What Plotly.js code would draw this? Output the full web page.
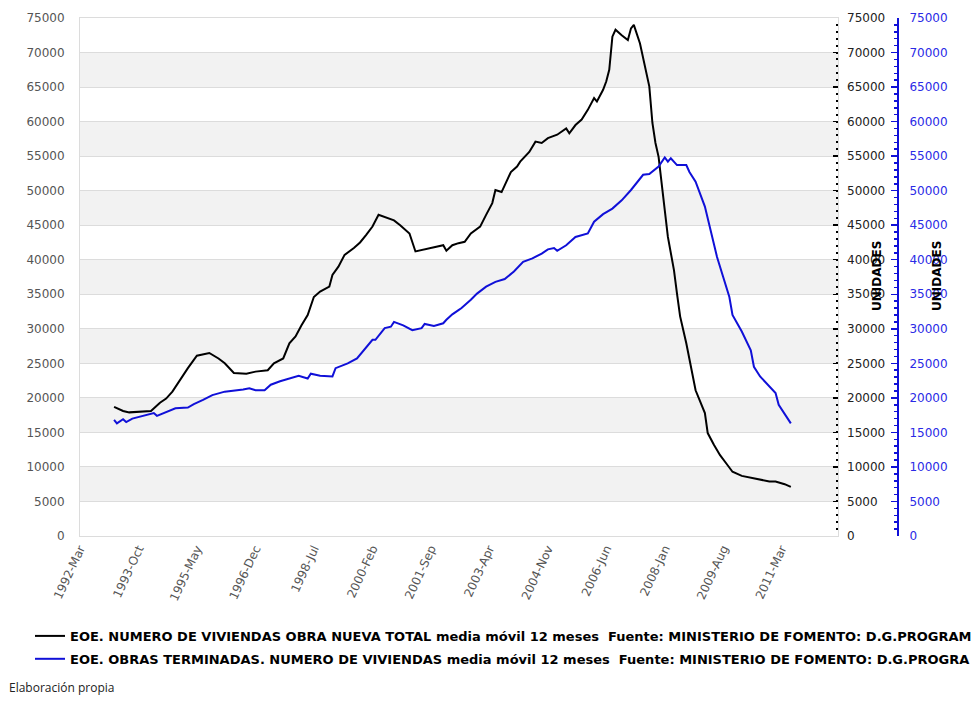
<!DOCTYPE html>
<html>
<head>
<meta charset="utf-8">
<script src="https://cdn.plot.ly/plotly-3.0.1.min.js"></script>
<style>html,body{margin:0;padding:0;background:#fff;}#chart{width:977px;height:702px;}</style>
</head>
<body>
<div id="chart"></div>
<script>
// Series 1: EOE. NUMERO DE VIVIENDAS OBRA NUEVA TOTAL (media móvil 12 meses)
const blackDates = ['1993-02','1993-05','1993-07','1993-10','1994-02','1994-05','1994-07','1994-09','1994-11','1995-02','1995-05','1995-07','1995-09','1995-12','1996-02','1996-05','1996-09','1996-12','1997-04','1997-06','1997-09','1997-11','1998-01','1998-03','1998-05','1998-07','1998-09','1998-12','1999-01','1999-03','1999-05','1999-08','1999-10','1999-12','2000-02','2000-04','2000-07','2000-09','2000-11','2001-02','2001-04','2001-07','2001-10','2002-01','2002-02','2002-04','2002-06','2002-08','2002-10','2003-01','2003-03','2003-05','2003-06','2003-08','2003-11','2004-01','2004-02','2004-05','2004-07','2004-09','2004-11','2005-02','2005-05','2005-06','2005-08','2005-10','2005-12','2006-02','2006-03','2006-05','2006-06','2006-07','2006-08','2006-09','2006-11','2007-01','2007-02','2007-03','2007-05','2007-07','2007-08','2007-09','2007-10','2007-11','2007-12','2008-01','2008-02','2008-04','2008-05','2008-06','2008-08','2008-10','2008-11','2009-02','2009-03','2009-05','2009-07','2009-09','2009-11','2010-02','2010-06','2010-09','2010-11','2011-01','2011-04','2011-06'];
const blackValues = [18700,18100,17900,18000,18100,19300,19900,20900,22300,24300,26100,26300,26500,25700,25000,23600,23500,23800,24000,25000,25700,27900,28900,30500,32000,34600,35400,36100,37800,39000,40700,41700,42500,43600,44800,46500,46000,45700,45000,43800,41200,41500,41800,42100,41300,42100,42400,42600,43800,44800,46500,48200,50100,49800,52700,53500,54200,55600,57100,56900,57600,58100,59000,58300,59500,60300,61700,63400,62900,64600,65800,67500,72300,73300,72500,71800,73500,74000,71300,67200,65100,59800,56900,54900,51500,47200,43300,38500,35100,31800,27900,23600,21100,17800,14900,13200,11700,10500,9300,8700,8300,8100,7900,7900,7500,7100];

// Series 2: EOE. OBRAS TERMINADAS. NUMERO DE VIVIENDAS (media móvil 12 meses)
const blueDates = ['1993-02','1993-03','1993-05','1993-06','1993-08','1993-12','1994-03','1994-04','1994-07','1994-10','1995-02','1995-04','1995-07','1995-10','1996-02','1996-05','1996-08','1996-10','1996-12','1997-03','1997-05','1997-08','1997-11','1998-02','1998-05','1998-06','1998-09','1999-01','1999-02','1999-06','1999-09','1999-12','2000-02','2000-03','2000-06','2000-08','2000-09','2000-12','2001-03','2001-06','2001-07','2001-10','2002-01','2002-02','2002-04','2002-06','2002-07','2002-10','2002-12','2003-03','2003-06','2003-09','2003-12','2004-03','2004-06','2004-09','2004-11','2005-01','2005-02','2005-05','2005-08','2005-12','2006-02','2006-05','2006-08','2006-11','2007-02','2007-06','2007-08','2007-11','2008-01','2008-02','2008-03','2008-05','2008-08','2008-09','2008-11','2009-02','2009-04','2009-06','2009-08','2009-10','2009-11','2010-02','2010-05','2010-06','2010-08','2010-11','2011-01','2011-02','2011-05','2011-06'];
const blueValues = [16800,16300,16900,16500,17000,17400,17800,17400,18000,18500,18600,19100,19700,20400,20900,21000,21200,21400,21100,21100,21900,22400,22800,23200,22800,23500,23200,23100,24300,25000,25700,27400,28400,28400,30100,30300,31000,30500,29800,30100,30700,30400,30800,31300,32100,32700,33000,34200,35100,36100,36800,37200,38300,39700,40200,40900,41500,41700,41300,42100,43300,43800,45500,46600,47400,48600,50100,52300,52400,53500,54800,54200,54700,53700,53700,52700,51300,47700,44300,40400,37500,34600,32000,29600,26900,24500,23100,21600,20700,19000,17000,16300];

// legend texts as visible in the reference (cut at the picture's right edge there)
const seriesNames = [
  'EOE. NUMERO DE VIVIENDAS OBRA NUEVA TOTAL media móvil 12 meses  Fuente: MINISTERIO DE FOMENTO: D.G.PROGRAM',
  'EOE. OBRAS TERMINADAS. NUMERO DE VIVIENDAS media móvil 12 meses  Fuente: MINISTERIO DE FOMENTO: D.G.PROGRA'
];
const yTicks = [0,5000,10000,15000,20000,25000,30000,35000,40000,45000,50000,55000,60000,65000,70000,75000];
const axisTitle = 'UNIDADES';
const footnote = 'Elaboración propia';

const BLUE = '#1010d8';
const yRange = [0, 75000];

// alternate shaded bands between gridlines
const shapes = [];
for (let i = 1; i < yTicks.length - 1; i += 2) {
  shapes.push({type:'rect', xref:'x domain', yref:'y', x0:0, x1:1, y0:yTicks[i], y1:yTicks[i+1],
    fillcolor:'#f2f2f2', line:{width:0}, layer:'below'});
}

const traces = [
  {x: blackDates, y: blackValues, name: seriesNames[0], type:'scatter', mode:'lines',
   line:{color:'#000000', width:2}, yaxis:'y2', legendgroup:'a'},
  {x: blueDates, y: blueValues, name: seriesNames[1], type:'scatter', mode:'lines',
   line:{color:BLUE, width:2}, yaxis:'y3', legendgroup:'b'}
];

const layout = {
  width: 977, height: 702,
  margin: {l:80, r:79, t:18, b:166, pad:0},
  paper_bgcolor:'#ffffff', plot_bgcolor:'#ffffff',
  font: {family:'DejaVu Sans', size:12, color:'#555'},
  showlegend: true,
  xaxis: {
    type:'date', domain:[0, 0.9267], range:['1992-03-01','2012-09-10'],
    tickformat:'%Y-%b', dtick:'M19', tick0:'1992-03-01', tickangle:-65,
    tickfont:{size:12, color:'#555'}, showgrid:false, zeroline:false,
    showline:true, linecolor:'#dcdcdc', linewidth:1, mirror:true, ticks:''
  },
  yaxis: {
    range:yRange, tickvals:yTicks, tickformat:'d', tickfont:{size:12, color:'#555'},
    gridcolor:'#dcdcdc', gridwidth:1, showline:true, linecolor:'#dcdcdc', mirror:true,
    ticks:'', ticklabelstandoff:12, zeroline:false
  },
  yaxis2: {
    overlaying:'y', side:'right', anchor:'x', range:yRange, tickvals:yTicks, tickformat:'d',
    ticks:'inside', ticklen:5, tickwidth:1.5, tickcolor:'#000',
    minor:{ticks:'inside', ticklen:2, tickwidth:2, tickcolor:'#000', dtick:1000, showgrid:false},
    showgrid:false, showline:false, zeroline:false,
    tickfont:{size:12, color:'#222'}, ticklabelstandoff:8
  },
  yaxis3: {
    overlaying:'y', side:'right', anchor:'free', position:1, range:yRange, tickvals:yTicks, tickformat:'d',
    ticks:'inside', ticklen:6, tickwidth:1.5, tickcolor:BLUE,
    minor:{ticks:'inside', ticklen:3, tickwidth:1.5, tickcolor:BLUE, dtick:1000, showgrid:false},
    showgrid:false, showline:true, linecolor:BLUE, linewidth:2, zeroline:false,
    tickfont:{size:12, color:'#2a2ae6'}, ticklabelstandoff:8
  },
  legend: {
    x:-0.055, xanchor:'left', y:-0.164, yanchor:'top', orientation:'v',
    traceorder:'grouped', tracegroupgap:3, itemwidth:30,
    font:{family:'DejaVu Sans', size:13, color:'#000', weight:700},
    bgcolor:'rgba(0,0,0,0)'
  },
  shapes: shapes,
  annotations: [
    {text:axisTitle, xref:'paper', yref:'paper', x:0.9853, y:0.502, textangle:-90,
     showarrow:false, font:{family:'DejaVu Sans', size:12, color:'#000', weight:700}},
    {text:axisTitle, xref:'paper', yref:'paper', x:1.0587, y:0.502, textangle:-90,
     showarrow:false, font:{family:'DejaVu Sans', size:12, color:'#000', weight:700}},
    {text:footnote, xref:'paper', yref:'paper', x:-0.0892, xanchor:'left', y:-0.2934, yanchor:'middle',
     showarrow:false, font:{family:'Open Sans', size:12, color:'#222'}}
  ]
};

Plotly.newPlot('chart', traces, layout, {displayModeBar:false, staticPlot:true});
</script>
</body>
</html>
